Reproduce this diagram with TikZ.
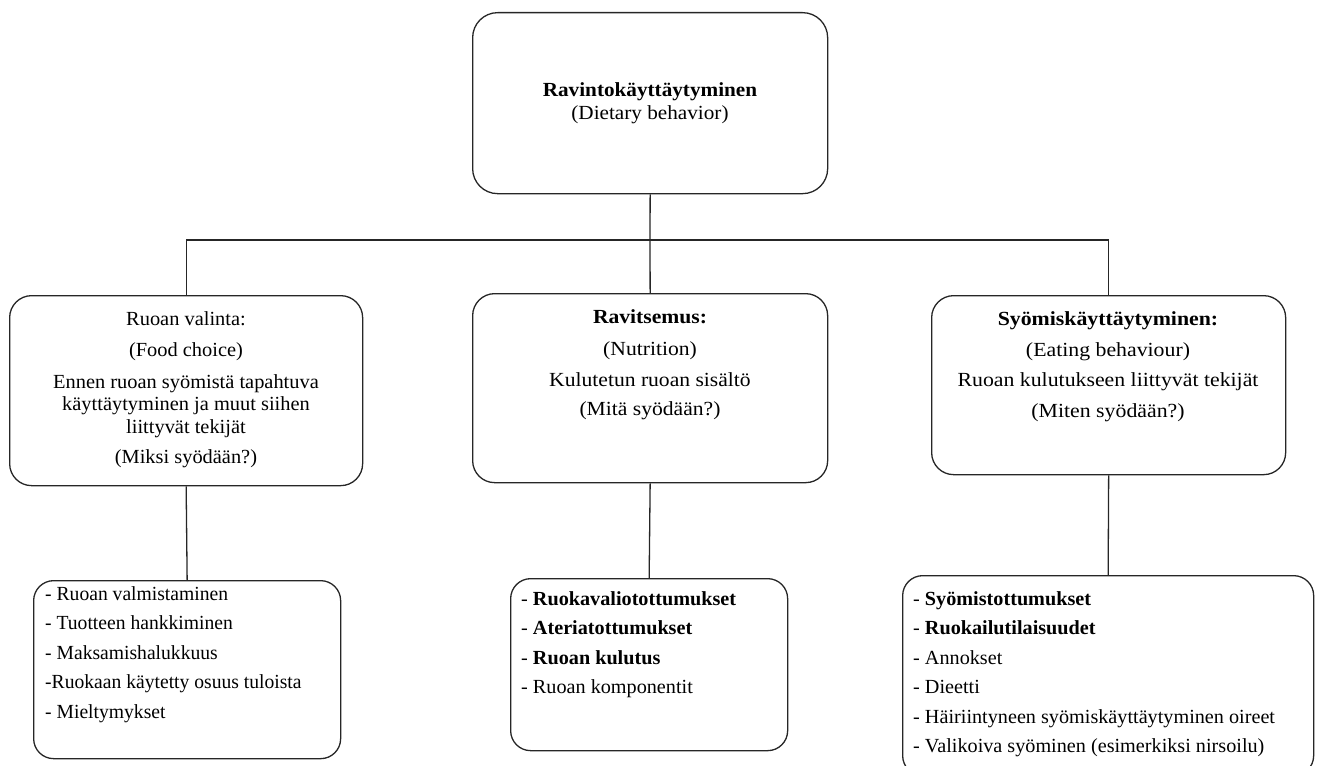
\documentclass[tikz,border=0pt]{standalone}
\usepackage{fontspec}
\setmainfont{Liberation Serif}
\newcommand\cfnt[1]{\fontsize{20}{22.5}\selectfont\addfontfeatures{FakeStretch=#1}}
\newcommand\lfnt[1]{\fontsize{20}{29.5}\selectfont\addfontfeatures{FakeStretch=#1}}
\begin{document}
\begin{tikzpicture}[x=1pt,y=-1pt,
  box/.style={draw=black!85, line width=1.3pt, rounded corners=22pt, inner sep=0pt, anchor=north west},
  conn/.style={draw=black!85, line width=1.3pt},
  ctext/.style={align=center, inner sep=0pt, anchor=north},
  ltext/.style={align=left, inner sep=0pt, anchor=north west}]
\useasboundingbox (0,0) rectangle (1321,765);
% boxes
\node[box, rounded corners=25pt, minimum width=355pt, minimum height=181pt] (top) at (472,12) {};
\node[box, minimum width=353pt, minimum height=190pt] (mL) at (9,295) {};
\node[box, minimum width=355pt, minimum height=189pt] (mC) at (472,293) {};
\node[box, minimum width=354pt, minimum height=179pt] (mR) at (931,295) {};
\node[box, rounded corners=20pt, minimum width=307pt, minimum height=178pt] (bL) at (33,580) {};
\node[box, rounded corners=20pt, minimum width=277pt, minimum height=172pt] (bC) at (510,578) {};
\node[box, rounded corners=20pt, minimum width=411pt, minimum height=200pt] (bR) at (902,575) {};
% connectors
\coordinate (bus) at (650,240);
\draw[conn] (top.south) -- (bus);
\draw[conn] (mL.north) |- (bus) -| (mR.north);
\draw[conn] (bus) -- (mC.north);
\draw[conn] (mL.south) -- (bL.north);
\draw[conn] (mC.south) -- (bC.north);
\draw[conn] (mR.south) -- (bR.north);
% texts
\node[ctext, font=\cfnt{1.06}] (tT) at (650,82) {\textbf{Ravintokäyttäytyminen}\\[0.5pt](Dietary behavior)};
\node[ctext, font=\cfnt{1.02}] (tL) at (186,311) {Ruoan valinta:\\[9pt](Food choice)\\[9pt]Ennen ruoan syömistä tapahtuva\\käyttäytyminen ja muut siihen\\liittyvät tekijät\\[8pt](Miksi syödään?)};
\node[ctext, font=\cfnt{1.08}] (tC) at (650,309.5) {\textbf{Ravitsemus:}\\[9pt](Nutrition)\\[9pt]Kulutetun ruoan sisältö\\[6pt](Mitä syödään?)};
\node[ctext, font=\cfnt{1.09}] (tR) at (1108,311) {\textbf{Syömiskäyttäytyminen:}\\[8.5pt](Eating behaviour)\\[8pt]Ruoan kulutukseen liittyvät tekijät\\[8.5pt](Miten syödään?)};
\node[ltext, font=\lfnt{0.98}] (lL) at (45,586) {- Ruoan valmistaminen\\- Tuotteen hankkiminen\\- Maksamishalukkuus\\-Ruokaan käytetty osuus tuloista\\- Mieltymykset};
\node[ltext, font=\lfnt{1.01}] (lC) at (521,591) {- \textbf{Ruokavaliotottumukset}\\- \textbf{Ateriatottumukset}\\- \textbf{Ruoan kulutus}\\- Ruoan komponentit};
\node[ltext, font=\lfnt{1.01}] (lR) at (913,591) {- \textbf{Syömistottumukset}\\- \textbf{Ruokailutilaisuudet}\\- Annokset\\- Dieetti\\- Häiriintyneen syömiskäyttäytyminen oireet\\- Valikoiva syöminen (esimerkiksi nirsoilu)};
\end{tikzpicture}
\end{document}
